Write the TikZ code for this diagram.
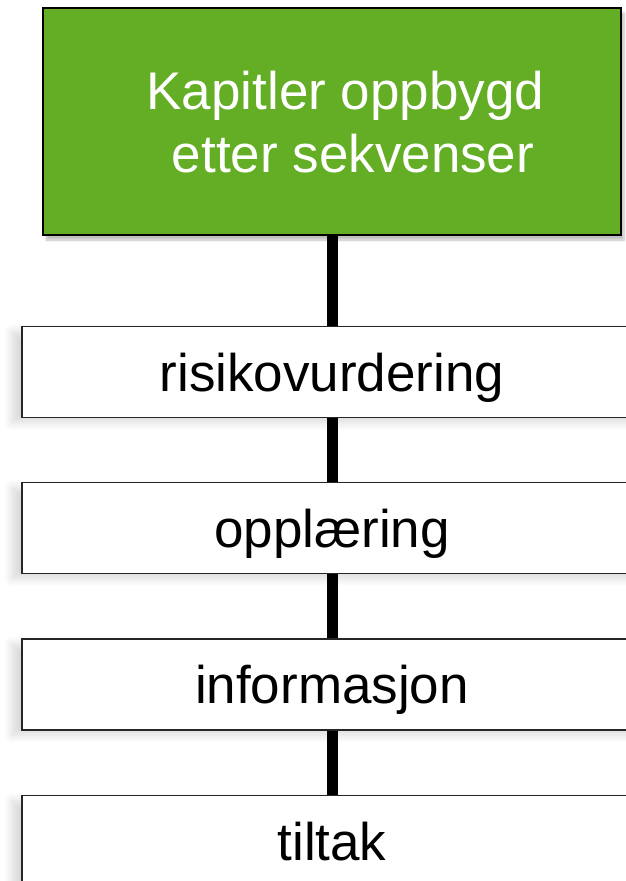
\documentclass[tikz,border=0pt]{standalone}
\usepackage{fontspec}
\setmainfont{Liberation Sans}
\usetikzlibrary{shadows.blur}
\definecolor{boxgreen}{RGB}{99,174,36}
\tikzset{
  greenbox/.style={draw=black, line width=2pt, fill=boxgreen, minimum width=578pt, minimum height=227pt, inner sep=0pt,
    blur shadow={shadow xshift=3pt, shadow yshift=-5pt, shadow blur steps=8, shadow opacity=25}},
  whitebox/.style={draw=black!85, line width=1.6pt, fill=white, minimum width=620pt, minimum height=91pt, inner sep=0pt,
    text height=38pt, text depth=0pt, font=\fontsize{53}{63}\selectfont,
    blur shadow={shadow xshift=-10pt, shadow yshift=-5pt, shadow blur radius=8pt, shadow blur steps=10, shadow opacity=15}},
  link/.style={line width=11pt, black},
}
\begin{document}
\begin{tikzpicture}[x=1pt,y=-1pt]
\useasboundingbox (0,0) rectangle (626,881);
\node[greenbox] (top) at (332,121.5) {};
\node[text=white, align=center, font=\fontsize{53}{63}\selectfont, anchor=base, inner sep=0pt] (title) at (345.5,172) {Kapitler oppbygd\\\hspace{15pt}etter sekvenser};
\node[whitebox] (b1) at (332,372) {risikovurdering};
\node[whitebox] (b2) at (332,528) {opplæring};
\node[whitebox] (b3) at (332,684.5) {informasjon};
\node[whitebox] (b4) at (332,841) {tiltak};
\draw[link] (top.south) -- (b1.north);
\draw[link] (b1.south) -- (b2.north);
\draw[link] (b2.south) -- (b3.north);
\draw[link] (b3.south) -- (b4.north);
\end{tikzpicture}
\end{document}
